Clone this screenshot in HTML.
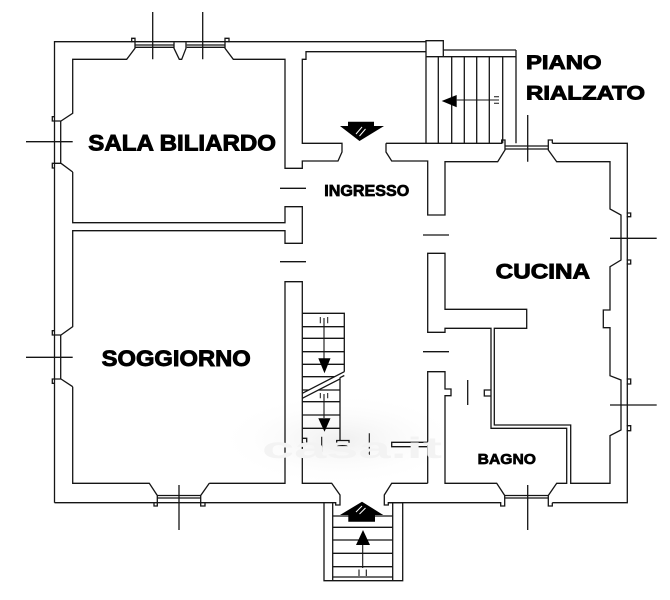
<!DOCTYPE html>
<html><head><meta charset="utf-8"><style>
html,body{margin:0;padding:0;background:#fff;}
svg{display:block;}
text{font-family:"Liberation Sans",Arial,sans-serif;font-weight:bold;fill:#000;stroke:#000;stroke-width:0.9;}
text.s{stroke-width:0.7;}
</style></head><body>
<svg width="670" height="600" viewBox="0 0 670 600" xmlns="http://www.w3.org/2000/svg">
<defs>
<radialGradient id="wm" cx="0.5" cy="0.5" r="0.5">
<stop offset="0" stop-color="#efefef"/><stop offset="1" stop-color="#ffffff" stop-opacity="0"/>
</radialGradient>
</defs>
<rect width="670" height="600" fill="#fff"/>
<rect x="215" y="392" width="250" height="95" rx="40" fill="url(#wm)"/>
<g fill="none" stroke="#151515" stroke-width="1.3" stroke-linejoin="miter">
<path d="M54.5,502.7 V41.7 H426"/>
<path d="M131.7,42.3 V38.3 H135 V48.3 L126.7,59.3 H72.7 V113.3 L61,121 H52.3 V116.7 H54.5"/>
<path d="M225,42.3 V38.3 H229 V42.3 M225,38.3 V48.3 L233.3,59.3 H285 V168.3 H302.3 V161 H338 L342,152 V143.3 H302.3 V59.3 H306 V51.7 H426"/>
<path d="M135,45 H174 M135,47.3 H174 M186.7,45 H225 M186.7,47.3 H225"/>
<path d="M174,42.3 V48.3 L179.3,59.3 H181.7 L186,48.3 V42.3"/>
<path d="M152.7,12 V59.3 M202.7,12 V59.3"/>
<path d="M60.7,121 V163.3 M72.7,172 L61,163.3 H52.3 V168 H54.5 M72.7,172 V222.7 H285 V206.7 H302.3 V243.3 H285 V230.7 H72.7 V326.7 L61,335 H52.3 V330.7 H54.5"/>
<path d="M26,141.7 H72.7"/>
<path d="M60.7,335 V379 M72.7,386.7 L61,379 H52.3 V383.3 H54.5 M72.7,386.7 V483.3 H149.3 L157.3,495.5 V506 H154 V502.7"/>
<path d="M26,357.3 H72.7"/>
<path d="M157.3,495.5 H200.7 M157.3,498 H200.7 M209.3,483.3 L200.7,495.5 V506 H205 V502.7 M209.3,483.3 H285 V281.7 H302.3 V483.3 H331.7 L340,495 V505 H335.7 V502.7 H54.5"/>
<path d="M179,485 V530"/>
<path d="M280,188.3 H306 M280,261.7 H306"/>
<path d="M426,40.7 H443.3 V56.7 H426 Z M426,56.7 V143.3 M443.3,50 H516 M443.3,56.7 H516 M516,50 V143.3"/>
<path d="M438.3,56.7 V143.3 M451.7,56.7 V143.3 M464.3,56.7 V143.3 M476.7,56.7 V143.3 M489.3,56.7 V143.3 M502.7,56.7 V143.3"/>
<path d="M456.7,100 H496.7 M494,96.7 H499 M494,100 H499 M494,103.3 H499" stroke-width="1"/>
<path d="M386,143.3 V152 L391.7,161 H427.7 V215 H445 V161.7 H497.7 L505,150 V140 H501.7 V143.3 H386"/>
<path d="M505,146 H548.3 M505,149 H548.3"/>
<path d="M552.3,143.3 V140 H548.3 V150 L556.7,161.7 H610 V209 L621,215 V260 L610,266.7 V310 H603.3 V327.7 H610 V375.7 L621,380 V430 L610,435.7 V483.3 H570.7 V425 H494.3 V328.3 H526.7 V309.3 H445 V253.3 H427.7 V332.3 H445 V328.3 H491 V428.3 H566.7 V483.3 H556.7 L548.3,495.5 V506 H552.3 V502.7"/>
<path d="M552.3,143.3 H627.3 V502.7 H552.3"/>
<path d="M626.7,213 H630.7 V216.7 H626.7 M626.7,260 H630.7 V264 H626.7 M626.7,379 H630.7 V384 H626.7 M626.7,425.7 H630.7 V430.7 H626.7"/>
<path d="M527.7,115 V161.7 M610,238.3 H656.7 M610,405 H656.7 M527.7,485 V530"/>
<path d="M423,235 H449 M423,351.7 H449"/>
<path d="M427.7,483.3 V371.7 H445 V389 H451 V395.7 H445 V483.3 H496.7 L504.7,495.5 V506 H500.7 V502.7 H388.3 V505 H384.3 V495 L391.7,483.3 H427.7"/>
<path d="M504.7,495.5 H548.3 M504.7,498 H548.3"/>
<path d="M491,390 H484.3 V396 H491"/>
<path d="M467.7,380 V405"/>
<path d="M427.7,442.3 H391.7 V446.7 H427.7"/>
<path d="M302.3,313.3 H344.3 V371.7 M340,377.5 V441 M302.3,393.3 L344.3,371.7 M302.3,398.3 L340,378.9 M344.3,375.5 L340,377.7"/>
<path d="M302.3,326.7 H344.3 M302.3,338.3 H344.3 M302.3,351.7 H344.3 M302.3,364.3 H344.3 M302.3,376.7 H334.6 M302.3,390 H308.7 M318.4,390 H340 M302.3,401.7 H340 M302.3,415 H340 M302.3,428.3 H340"/>
<path d="M302.3,438.3 H306.7 V443.3 H302.3 M340,440.5 H336.7 V445.5 H349 V440.5 H340"/>
<path d="M324,318 V362 M324,394 V418 M321.7,436.7 V451.7 M369.3,433.3 V455" stroke-width="1.1"/>
<path d="M320.3,317 V323.3 M327.7,317 V323.3 M320.3,393 V398.3 M327.7,393 V398.3" stroke-width="1"/>
<path d="M324,502.7 V580.7 H402.7 V502.7 H388.3 M332.7,502.7 V580.7 M392.7,502.7 V580.7"/>
<path d="M332.7,516 H392.7 M332.7,527.3 H392.7 M332.7,540 H392.7 M332.7,553.3 H392.7 M332.7,566.7 H392.7 M332.7,577 H392.7"/>
<path d="M362.7,545 V568 M359,569.5 V576 M366.3,569.5 V576" stroke-width="1.1"/>
</g>
<g fill="#000" stroke="none">
<polygon points="441.7,101 456.7,95 456.7,107.3"/>
<polygon points="318.3,358.3 330.5,358.3 324.5,373.3"/>
<polygon points="318.3,418.3 330.5,418.3 324.5,431.7"/>
<polygon points="356,545 370,545 363,530"/>
<polygon points="340,126 348,126 348,121.7 374,121.7 374,126 384,126 359.5,141"/>
<polygon points="340,515 362,501.7 383.3,515 375,515 375,521.7 348.3,521.7 348.3,515"/>
</g>
<g stroke="#fff" stroke-width="1" fill="none">
<path d="M356,134 L362,127 M359.5,136 L365.5,129"/>
<path d="M356,512 L362,506 M359.5,514 L365.5,508"/>
</g>
<text x="262" y="458" font-size="30" textLength="180" lengthAdjust="spacingAndGlyphs" style="fill:#f3f3f3;stroke:none;">casa.it</text>
<text x="526" y="69" font-size="19.5" textLength="75.5" lengthAdjust="spacingAndGlyphs">PIANO</text>
<text x="526" y="99.3" font-size="19.5" textLength="119" lengthAdjust="spacingAndGlyphs">RIALZATO</text>
<text x="88.3" y="150.7" font-size="22" textLength="187.7" lengthAdjust="spacingAndGlyphs">SALA BILIARDO</text>
<text class="s" x="324.3" y="196" font-size="15.3" textLength="85" lengthAdjust="spacingAndGlyphs">INGRESSO</text>
<text x="495.7" y="278.3" font-size="21" textLength="94.3" lengthAdjust="spacingAndGlyphs">CUCINA</text>
<text x="101.7" y="366" font-size="22.3" textLength="149" lengthAdjust="spacingAndGlyphs">SOGGIORNO</text>
<text class="s" x="477.7" y="464" font-size="15" textLength="58.3" lengthAdjust="spacingAndGlyphs">BAGNO</text>
</svg>
</body></html>
